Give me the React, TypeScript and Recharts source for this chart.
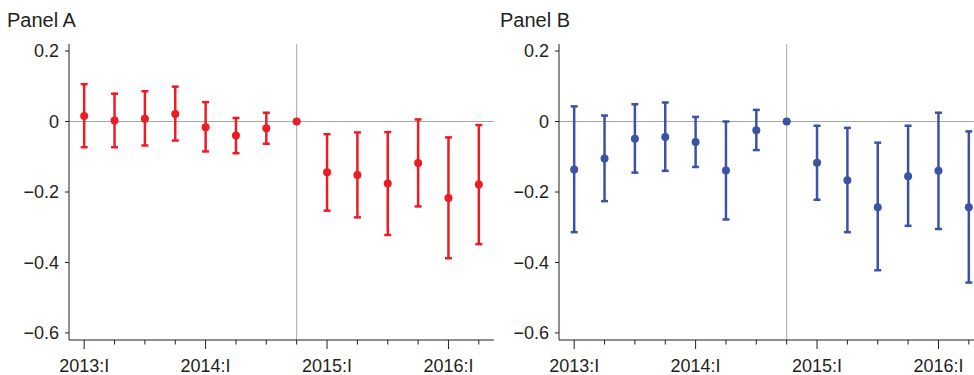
import React from "react";
import {
  ComposedChart,
  Line,
  XAxis,
  YAxis,
  ReferenceLine,
  ErrorBar
} from "recharts";

// Quarters 2013:I .. 2016:II, 2014:IV is the reference quarter (value 0)
const quarters = [
  "2013:I", "2013:II", "2013:III", "2013:IV",
  "2014:I", "2014:II", "2014:III", "2014:IV",
  "2015:I", "2015:II", "2015:III", "2015:IV",
  "2016:I", "2016:II"
];

const panelAEstimate = [0.016, 0.003, 0.008, 0.021, -0.016, -0.04, -0.019, 0, -0.144, -0.152, -0.176, -0.118, -0.217, -0.179];
const panelALow = [-0.073, -0.073, -0.068, -0.054, -0.085, -0.09, -0.063, 0, -0.253, -0.272, -0.322, -0.241, -0.388, -0.348];
const panelAHigh = [0.106, 0.079, 0.086, 0.099, 0.055, 0.01, 0.025, 0, -0.036, -0.031, -0.03, 0.006, -0.045, -0.01];

const panelBEstimate = [-0.136, -0.105, -0.049, -0.044, -0.058, -0.139, -0.025, 0, -0.117, -0.167, -0.243, -0.155, -0.14, -0.243];
const panelBLow = [-0.314, -0.226, -0.145, -0.14, -0.129, -0.278, -0.081, 0, -0.222, -0.314, -0.422, -0.296, -0.305, -0.457];
const panelBHigh = [0.043, 0.017, 0.049, 0.054, 0.013, 0.0, 0.033, 0, -0.012, -0.018, -0.06, -0.012, 0.025, -0.028];

const yTicks = [0.2, 0, -0.2, -0.4, -0.6];

const FONT = "'Liberation Sans', Arial, Helvetica, sans-serif";
const INK = "#231f20";
const GRID = "#a6a6a6";

function buildRows(est: number[], low: number[], high: number[]) {
  return quarters.map((q, i) => ({
    quarter: q,
    value: est[i],
    err: [est[i] - low[i], high[i] - est[i]]
  }));
}

const fmtY = (v: number) => (v < 0 ? `\u2212${Math.abs(v)}` : `${v}`);

// x tick: long tick + label on first quarters, short tick otherwise
const QuarterTick = (props: any) => {
  const { x, y, payload } = props;
  const major = String(payload.value).endsWith(":I");
  return (
    <g>
      <line x1={x} x2={x} y1={y} y2={y + (major ? 9 : 4.5)} stroke={INK} strokeWidth={1} />
      {major && (
        <text x={x} y={y + 32} textAnchor="middle" fill={INK} fontSize={18} fontFamily={FONT}>
          {payload.value}
        </text>
      )}
    </g>
  );
};

function Panel({ title, rows, color, left }: { title: string; rows: any[]; color: string; left: number }) {
  return (
    <div style={{ position: "absolute", left, top: 0, width: 500, height: 375 }}>
      <div
        style={{
          position: "absolute",
          left: title === "Panel A" ? 7 : 10,
          top: 10,
          fontSize: 20,
          lineHeight: "20px",
          fontFamily: FONT,
          color: INK,
          whiteSpace: "nowrap"
        }}
      >
        {title}
      </div>
      <ComposedChart
        width={500}
        height={375}
        data={rows}
        margin={{ top: 44, right: 6, bottom: 0, left: 0 }}
        style={{ position: "absolute", left: 0, top: 0 }}
      >
        <ReferenceLine y={0} stroke={GRID} strokeWidth={1} />
        <ReferenceLine x="2014:IV" stroke={GRID} strokeWidth={1} />
        <XAxis
          dataKey="quarter"
          scale="band"
          interval={0}
          height={35}
          tickSize={0}
          tickMargin={0}
          tickLine={false}
          axisLine={{ stroke: INK }}
          tick={<QuarterTick />}
        />
        <YAxis
          width={69}
          domain={[-0.62, 0.22]}
          ticks={yTicks}
          tickFormatter={fmtY}
          tickSize={4}
          tickMargin={6}
          axisLine={{ stroke: INK }}
          tickLine={{ stroke: INK }}
          tick={{ fill: INK, fontSize: 18, fontFamily: FONT }}
        />
        <Line
          dataKey="value"
          stroke="none"
          isAnimationActive={false}
          dot={{ r: 4, fill: color, stroke: "none" }}
          activeDot={false}
        >
          <ErrorBar dataKey="err" width={3.5} stroke={color} strokeWidth={2.5} />
        </Line>
      </ComposedChart>
    </div>
  );
}

export default function App() {
  const rowsA = buildRows(panelAEstimate, panelALow, panelAHigh);
  const rowsB = buildRows(panelBEstimate, panelBLow, panelBHigh);
  return (
    <>
      <style>{`html, body { margin: 0; padding: 0; overflow: hidden; }`}</style>
      <div
        style={{
          position: "relative",
          width: 974,
          height: 375,
          overflow: "hidden",
          background: "#fff"
        }}
      >
        <Panel title="Panel A" rows={rowsA} color="#ec1c24" left={0} />
        <Panel title="Panel B" rows={rowsB} color="#3a53a4" left={490} />
      </div>
    </>
  );
}
